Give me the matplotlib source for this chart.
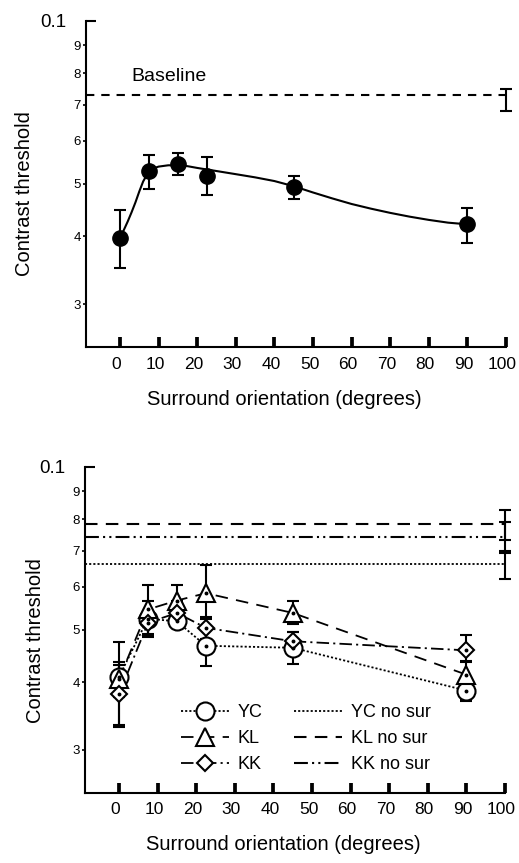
import matplotlib
matplotlib.use('Agg')
import matplotlib.pyplot as plt
from matplotlib.lines import Line2D
from matplotlib.transforms import ScaledTranslation

plt.rcParams['font.family'] = ['Liberation Sans', 'DejaVu Sans']
plt.rcParams['lines.scale_dashes'] = False

# ---------------- data ----------------
orient = [0, 7.5, 15, 22.5, 45, 90]
x_ticks = [0, 10, 20, 30, 40, 50, 60, 70, 80, 90, 100]
y_minor = [0.03, 0.04, 0.05, 0.06, 0.07, 0.08, 0.09]
y_minor_labels = ['3', '4', '5', '6', '7', '8', '9']

# top panel: average thresholds
avg_thr = [0.0398, 0.0528, 0.0544, 0.0517, 0.0493, 0.0421]
avg_lo = [0.0350, 0.0490, 0.0519, 0.0476, 0.0468, 0.0389]
avg_hi = [0.0447, 0.0564, 0.0569, 0.0560, 0.0518, 0.0452]
fit_x = [0, 1, 2, 3, 4, 5, 6, 7, 8, 9, 10, 12.5, 15, 17.5, 20, 25, 30, 35, 40,
         45, 50, 55, 60, 65, 70, 75, 80, 85, 90]
fit_y = [0.0398, 0.0411, 0.0426, 0.0443, 0.0462, 0.0484, 0.0505, 0.0520, 0.0530,
         0.0535, 0.0538, 0.0541, 0.0541, 0.0539, 0.0535, 0.0528, 0.0521, 0.0514,
         0.0506, 0.0495, 0.0482, 0.0470, 0.0459, 0.0450, 0.0442, 0.0435, 0.0429,
         0.0424, 0.0421]
baseline = 0.0729
baseline_lo = 0.0682
baseline_hi = 0.0747

# bottom panel: individual observers
yc = [0.0409, 0.0524, 0.0518, 0.0467, 0.0463, 0.0386]
yc_lo = [0.0334, 0.0485, 0.0504, 0.0428, 0.0433, 0.0369]
yc_hi = [0.0474, 0.0565, 0.0535, 0.0505, 0.0495, 0.0405]
kl = [0.0405, 0.0545, 0.0566, 0.0584, 0.0537, 0.0413]
kl_lo = [0.0376, 0.0490, 0.0530, 0.0524, 0.0512, 0.0372]
kl_hi = [0.0436, 0.0605, 0.0605, 0.0657, 0.0566, 0.0437]
kk = [0.0380, 0.0515, 0.0537, 0.0504, 0.0476, 0.0458]
kk_lo = [0.0331, 0.0488, 0.0510, 0.0480, 0.0455, 0.0435]
kk_hi = [0.0430, 0.0540, 0.0565, 0.0528, 0.0495, 0.0489]
yc_nosur, yc_nosur_lo, yc_nosur_hi = 0.0662, 0.0620, 0.0700
kl_nosur, kl_nosur_lo, kl_nosur_hi = 0.0783, 0.0733, 0.0832
kk_nosur, kk_nosur_lo, kk_nosur_hi = 0.0743, 0.0694, 0.0792
nosur_x = 100

# ---------------- styles ----------------
DOT = (0, (1.5, 1.5))
DASH = (0, (9, 6))
DASHDOT = (0, (9, 3, 1.5, 3))
DASHDOTDOT = (0, (10, 3, 1.5, 3, 1.5, 3))

fig = plt.figure(figsize=(5.19, 8.63), dpi=100)
shift = ScaledTranslation(-3.5 / 100, 0, fig.dpi_scale_trans)


def style(ax):
    ax.set_yscale('log')
    ax.set_ylim(0.025, 0.1)
    ax.set_xlim(-8.8, 100)
    ax.spines[['top', 'right']].set_visible(False)
    for s in ['left', 'bottom']:
        ax.spines[s].set_linewidth(1.5)
    ax.set_xticks(x_ticks)
    ax.set_xticklabels([str(v) for v in x_ticks])
    ax.set_yticks([0.1])
    ax.set_yticklabels(['0.1'])
    ax.set_yticks(y_minor, minor=True)
    ax.set_yticklabels(y_minor_labels, minor=True)
    ax.tick_params(axis='x', which='major', direction='in', length=7.5, width=2.7,
                   pad=7, labelsize=12.5)
    ax.tick_params(axis='x', which='minor', length=0)
    ax.tick_params(axis='y', which='major', direction='in', length=7.5, width=1.5,
                   pad=14, labelsize=13.5)
    ax.tick_params(axis='y', which='minor', direction='out', length=2.5, width=1.2,
                   pad=1.0, labelsize=9.5)
    for lbl in ax.get_xticklabels():
        lbl.set_transform(lbl.get_transform() + shift)
    ax.set_xlabel('Surround orientation (degrees)', fontsize=14.5)
    ax.set_ylabel('Contrast threshold', fontsize=14.5)
    ax.xaxis.label.set_verticalalignment('center')
    ax.yaxis.label.set(va='center', ha='center', rotation_mode='default')


def err(vals, lo, hi):
    return [[v - l for v, l in zip(vals, lo)], [h - v for v, h in zip(vals, hi)]]


# ---------------- top panel ----------------
ax1 = fig.add_axes([86 / 519, 1 - 347 / 863, 420 / 519, 326.3 / 863])
style(ax1)
ax1.axhline(baseline, color='black', lw=1.5, ls=(0, (6, 5)))
ax1.errorbar([nosur_x], [baseline], yerr=err([baseline], [baseline_lo], [baseline_hi]),
             fmt='none', ecolor='black', elinewidth=1.5, capsize=4.6, capthick=1.5,
             clip_on=False)
ax1.plot(fit_x, fit_y, color='black', lw=1.5)
ax1.errorbar(orient, avg_thr, yerr=err(avg_thr, avg_lo, avg_hi), fmt='o', color='black',
             ms=11, elinewidth=1.5, capsize=4.6, capthick=1.5, clip_on=False)
ax1.text(2.9, 0.079, 'Baseline', fontsize=14, ha='left', va='center')
ax1.xaxis.set_label_coords(0.471, -0.162)
ax1.yaxis.set_label_coords(-0.146, 0.47)

# ---------------- bottom panel ----------------
ax2 = fig.add_axes([85 / 519, 1 - 792.7 / 863, 420 / 519, 326 / 863])
style(ax2)
ax2.xaxis.set_label_coords(0.471, -0.16)
ax2.yaxis.set_label_coords(-0.118, 0.466)

h_yc_ns = ax2.axhline(yc_nosur, color='black', lw=1.3, ls=DOT, label='YC no sur')
h_kl_ns = ax2.axhline(kl_nosur, color='black', lw=1.5, ls=DASH, label='KL no sur')
h_kk_ns = ax2.axhline(kk_nosur, color='black', lw=1.5, ls=DASHDOTDOT, label='KK no sur')
for v, lo, hi in [(yc_nosur, yc_nosur_lo, yc_nosur_hi), (kl_nosur, kl_nosur_lo, kl_nosur_hi),
                  (kk_nosur, kk_nosur_lo, kk_nosur_hi)]:
    ax2.errorbar([nosur_x], [v], yerr=err([v], [lo], [hi]), fmt='none', ecolor='black',
                 elinewidth=1.5, capsize=4.4, capthick=1.5, clip_on=False)

series = [
    (yc, yc_lo, yc_hi, 'o', 13, DOT, 'YC'),
    (kl, kl_lo, kl_hi, '^', 12.5, DASH, 'KL'),
    (kk, kk_lo, kk_hi, 'D', 8, DASHDOT, 'KK'),
]
handles = []
for vals, lo, hi, mk, ms, ls, lab in series:
    ax2.errorbar(orient, vals, yerr=err(vals, lo, hi), fmt='none', ecolor='black',
                 elinewidth=1.5, capsize=4.4, capthick=1.5, clip_on=False, zorder=2)
    ax2.plot(orient, vals, color='black', lw=1.3, ls=ls, zorder=3)
for vals, lo, hi, mk, ms, ls, lab in series:
    ax2.plot(orient, vals, ls='none', marker=mk, ms=ms, mfc='white', mec='black',
             mew=1.5, zorder=4, clip_on=False)
    ax2.plot(orient, vals, ls='none', marker='o', ms=1.8, color='black', zorder=5,
             clip_on=False)
    handles.append(Line2D([], [], color='black', lw=1.3, ls=ls, marker=mk, ms=ms,
                          mfc='white', mec='black', mew=1.5, label=lab))

leg = ax2.legend(handles + [h_yc_ns, h_kl_ns, h_kk_ns],
                 [h.get_label() for h in handles] + ['YC no sur', 'KL no sur', 'KK no sur'],
                 ncol=2, frameon=False, fontsize=13, loc='upper left',
                 bbox_to_anchor=(0.207, 0.30), borderpad=0, handlelength=2.65,
                 handletextpad=0.5, columnspacing=1.75, labelspacing=0.5, numpoints=1)

fig.savefig('out.png', dpi=100)
